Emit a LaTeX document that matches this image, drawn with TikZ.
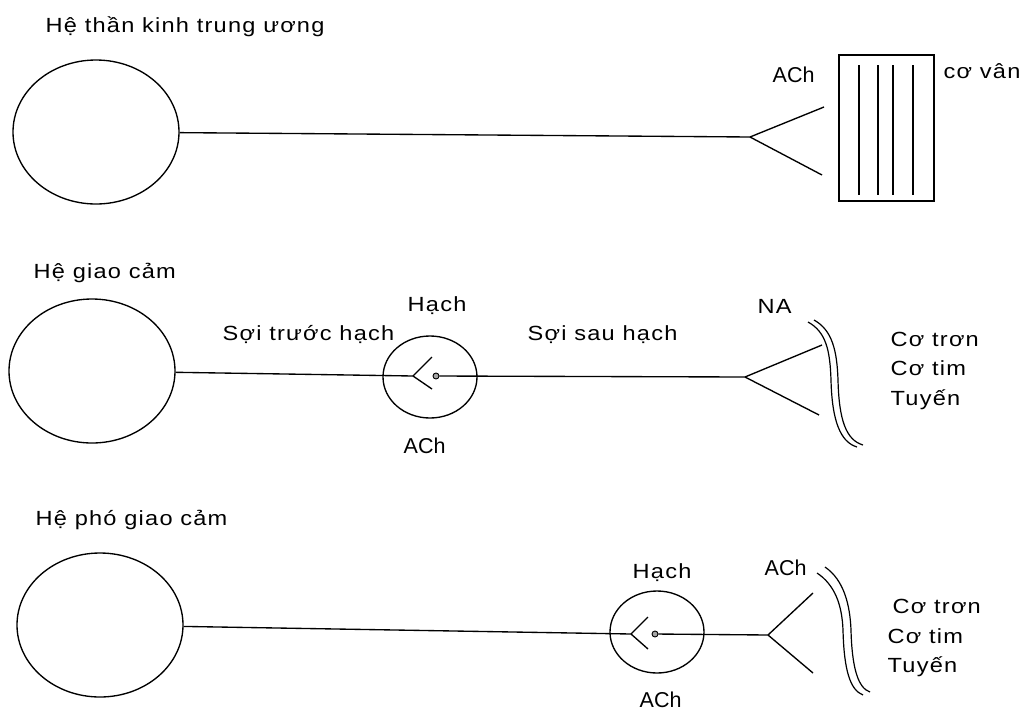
\documentclass[tikz,border=0pt]{standalone}
\usepackage{fontspec}
\setmainfont{Liberation Sans}[FakeStretch=1.15, LetterSpace=6]
\newfontfamily\achfont{Liberation Sans}
\usetikzlibrary{shapes.geometric}

\begin{document}
\begin{tikzpicture}[x=1pt, y=-1pt, line width=1.35pt,
  lbl/.style={inner sep=0pt, anchor=base west, font=\fontsize{20.5}{23}\selectfont},
  achlbl/.style={inner sep=0pt, anchor=base west, font=\achfont\fontsize{21.5}{24}\selectfont},
  soma/.style={draw, ellipse, inner sep=0pt, minimum width=166, minimum height=144},
  gang/.style={draw, ellipse, inner sep=0pt, minimum width=94, minimum height=82},
  muscle/.style={draw, rectangle, inner sep=0pt, minimum width=95, minimum height=146},
  synapse/.style={draw, circle, inner sep=0pt, minimum size=6pt, line width=0.9pt, fill=gray!70},
  wall/.style={line width=1.2pt}]

\useasboundingbox (0,0) rectangle (1028,710);

% ---------- Central nervous system: somatic motor pathway ----------
\node[lbl] (t1) at (45,32) {Hệ thần kinh trung ương};
\node[soma] (cns1) at (96,132) {};
\coordinate (f1) at (750,137);
\coordinate (f1u) at (824,107);
\coordinate (f1d) at (822,175);
\draw (cns1) -- (f1);
\draw (f1) -- (f1u);
\draw (f1) -- (f1d);
\node[muscle] (sk) at (886.5,128) {};
\foreach \x in {859,878,893,913}
  \draw (\x,65) -- (\x,195);
\node[achlbl] (ach1) at (772,82) {ACh};
\node[lbl] (cv) at (943,78) {cơ vân};

% ---------- Sympathetic pathway ----------
\node[lbl] (t2) at (33,278) {Hệ giao cảm};
\node[soma] (cns2) at (92,371) {};
\node[gang] (g2) at (430,377) {};
\coordinate (gf2) at (413,376);
\coordinate (gf2u) at (432,357);
\coordinate (gf2d) at (432,389);
\node[synapse] (s2) at (436,376) {};
\coordinate (f2) at (745,377);
\coordinate (f2u) at (822,345);
\coordinate (f2d) at (819,415);
\draw (cns2) -- (gf2);
\draw (gf2) -- (gf2u);
\draw (gf2) -- (gf2d);
\draw (s2) -- (f2);
\draw (f2) -- (f2u);
\draw (f2) -- (f2d);
\draw[wall] (808,322) .. controls (826,332) and (830,350) .. (831,380)
                     .. controls (832,420) and (840,442) .. (857,447);
\draw[wall] (814,320) .. controls (832,330) and (837,350) .. (838,380)
                     .. controls (839,420) and (846,440) .. (863,445);
\node[lbl] (h2) at (407,311) {Hạch};
\node[lbl] (pre2) at (222,340) {Sợi trước hạch};
\node[lbl] (post2) at (527,340) {Sợi sau hạch};
\node[achlbl] (ach2) at (403,453) {ACh};
\node[lbl] (na) at (757,313) {NA};
\node[lbl] (e2a) at (890,346) {Cơ trơn};
\node[lbl] (e2b) at (890,375) {Cơ tim};
\node[lbl] (e2c) at (890,405) {Tuyến};

% ---------- Parasympathetic pathway ----------
\node[lbl] (t3) at (35,525) {Hệ phó giao cảm};
\node[soma] (cns3) at (100,625) {};
\node[gang] (g3) at (657,632) {};
\coordinate (gf3) at (631,634);
\coordinate (gf3u) at (648,617);
\coordinate (gf3d) at (648,649);
\node[synapse] (s3) at (655,634) {};
\coordinate (f3) at (768,635);
\coordinate (f3u) at (813,593);
\coordinate (f3d) at (813,673);
\draw (cns3) -- (gf3);
\draw (gf3) -- (gf3u);
\draw (gf3) -- (gf3d);
\draw (s3) -- (f3);
\draw (f3) -- (f3u);
\draw (f3) -- (f3d);
\draw[wall] (817,573) .. controls (835,585) and (842,605) .. (843,630)
                     .. controls (844,670) and (850,690) .. (863,695);
\draw[wall] (825,567) .. controls (844,580) and (850,605) .. (851,630)
                     .. controls (852,668) and (858,688) .. (870,692);
\node[lbl] (h3) at (632,578) {Hạch};
\node[achlbl] (ach3) at (639,707) {ACh};
\node[achlbl] (ach3b) at (764,575) {ACh};
\node[lbl] (e3a) at (892,613) {Cơ trơn};
\node[lbl] (e3b) at (887,643) {Cơ tim};
\node[lbl] (e3c) at (887,672) {Tuyến};

\end{tikzpicture}
\end{document}
